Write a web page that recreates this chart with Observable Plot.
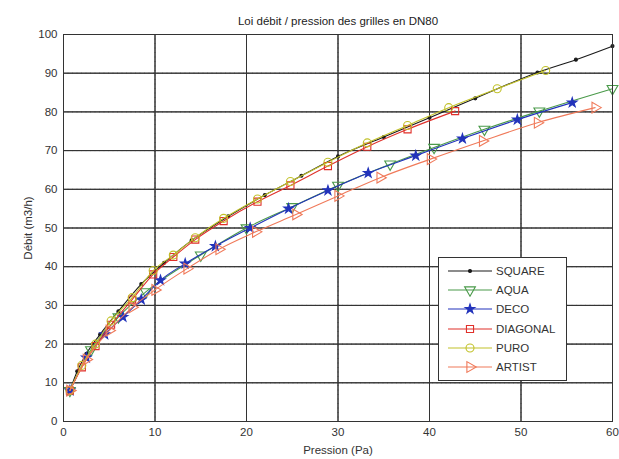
<!DOCTYPE html>
<html>
<head>
<meta charset="utf-8">
<script src="https://cdn.jsdelivr.net/npm/d3@7"></script>
<script src="https://cdn.jsdelivr.net/npm/@observablehq/plot@0.6"></script>
<style>
  html, body { margin: 0; padding: 0; background: #fff; }
  #wrap { position: relative; width: 619px; height: 459px; font-family: "Liberation Sans", Arial, sans-serif; }
  #legend { position: absolute; left: 438px; top: 257px; width: 129px; height: 124px; background: #fff; border: 1px solid #333; box-sizing: border-box; padding-top: 3px; }
  .row { display: flex; align-items: center; height: 19.3px; font-size: 11.5px; color: #333; }
  .row svg { margin-left: 8px; margin-right: 3px; }
</style>
</head>
<body>
<div id="wrap"></div>
<script>
const title = "Loi débit / pression des grilles en DN80";
const xLabel = "Pression (Pa)";
const yLabel = "Débit (m3/h)";
const xTicks = [0, 10, 20, 30, 40, 50, 60];
const yTicks = [0, 10, 20, 30, 40, 50, 60, 70, 80, 90, 100];

const seriesNames = ["SQUARE", "AQUA", "DECO", "DIAGONAL", "PURO", "ARTIST"];

const pSquare = [0.7, 1.5, 2.5, 4, 6, 8.5, 11, 14, 18, 22, 26, 30, 35, 40, 45, 51.8, 56, 60];
const qSquare = [8, 13, 17.5, 22.5, 28.5, 35.5, 41, 46.8, 53, 58.5, 63.5, 68.5, 73.5, 78.5, 83.5, 90.2, 93.5, 97];

const pAqua = [0.7, 3, 6, 9, 15, 20, 25, 30, 35.7, 40.5, 46, 52, 60];
const qAqua = [8, 18.5, 27, 33.5, 43, 50, 55.5, 61, 66.5, 70.8, 75.5, 80.2, 86];

const pDeco = [0.7, 2.5, 4.5, 6.5, 8.5, 10.6, 13.3, 16.6, 20.4, 24.6, 28.9, 33.3, 38.5, 43.6, 49.6, 55.6];
const qDeco = [8, 16.5, 22.5, 27, 31.5, 36.5, 40.8, 45.3, 50, 55, 59.7, 64.2, 68.7, 73.1, 78, 82.4];

const pDiagonal = [0.7, 2, 3.5, 5.2, 7.5, 9.8, 12, 14.4, 17.5, 21.2, 24.8, 28.9, 33.2, 37.6, 42.8];
const qDiagonal = [8, 14, 19.5, 25, 31.5, 38, 42.5, 47, 51.8, 56.8, 61, 66, 71, 75.5, 80.2];

const pPuro = [0.7, 2, 3.5, 5.2, 7.5, 9.8, 12, 14.4, 17.5, 21.2, 24.8, 28.9, 33.2, 37.6, 42.1, 47.4, 52.7];
const qPuro = [8, 14.5, 20, 26, 32, 39, 43, 47.5, 52.5, 57.5, 62, 67, 72, 76.5, 81.1, 86, 90.7];

const pArtist = [0.7, 2.5, 5, 7.5, 10, 13.5, 17, 21, 25.4, 30, 34.6, 40.1, 45.8, 51.8, 58.1];
const qArtist = [8, 16, 23.5, 29.5, 34, 39.5, 44.5, 49, 53.5, 58.3, 63, 67.8, 72.5, 77.2, 81.1];

const styles = {
  SQUARE:   {color: "#1a1a1a", symbol: "circle", rotate: 0, fill: "#1a1a1a", r: 1.5},
  AQUA:     {color: "#4a9a4a", symbol: "triangle", rotate: 180, fill: "none", r: 4},
  DECO:     {color: "#2233bb", symbol: "star", rotate: 0, fill: "#2233bb", r: 3},
  DIAGONAL: {color: "#e0302a", symbol: "square", rotate: 0, fill: "none", r: 4},
  PURO:     {color: "#c2c22a", symbol: "circle", rotate: 0, fill: "none", r: 4},
  ARTIST:   {color: "#f07a5a", symbol: "triangle", rotate: 90, fill: "none", r: 4}
};

const raw = {
  SQUARE: [pSquare, qSquare], AQUA: [pAqua, qAqua], DECO: [pDeco, qDeco],
  DIAGONAL: [pDiagonal, qDiagonal], PURO: [pPuro, qPuro], ARTIST: [pArtist, qArtist]
};

const marks = [
  Plot.gridX(xTicks, {stroke: "#777", strokeOpacity: 0.9, strokeWidth: 1, strokeDasharray: "1,3.5"}),
  Plot.gridY(yTicks, {stroke: "#777", strokeOpacity: 0.9, strokeWidth: 1, strokeDasharray: "1,3.5"}),
  Plot.tickX(xTicks, {x: d => d, y1: 0, y2: 1.4, stroke: "#333"}),
  Plot.tickX(xTicks, {x: d => d, y1: 98.6, y2: 100, stroke: "#333"}),
  Plot.tickY(yTicks, {y: d => d, x1: 0, x2: 0.6, stroke: "#333"}),
  Plot.tickY(yTicks, {y: d => d, x1: 59.4, x2: 60, stroke: "#333"})
];

for (const name of seriesNames) {
  const [ps, qs] = raw[name];
  const rows = ps.map((p, i) => ({p, q: qs[i]}));
  const s = styles[name];
  marks.push(Plot.line(rows, {x: "p", y: "q", stroke: s.color, strokeWidth: 1.1, curve: "monotone-x"}));
  marks.push(Plot.dot(rows, {x: "p", y: "q", symbol: s.symbol, rotate: s.rotate, r: s.r,
    stroke: s.color, fill: s.fill, strokeWidth: 1.1}));
}

marks.push(Plot.frame({stroke: "#333"}));
marks.push(Plot.text([title], {frameAnchor: "top", dy: -18, text: d => d, fontSize: 11.5, fill: "#222"}));

const chart = Plot.plot({
  width: 619,
  height: 459,
  marginLeft: 63,
  marginRight: 7,
  marginTop: 34,
  marginBottom: 38,
  style: {fontFamily: "Liberation Sans, Arial, sans-serif", fontSize: "11.5px", color: "#333", background: "#fff"},
  x: {domain: [0, 60], ticks: xTicks, tickSize: 0, tickPadding: 6, label: xLabel, labelAnchor: "center", labelOffset: 32, labelArrow: "none"},
  y: {domain: [0, 100], ticks: yTicks, tickSize: 0, tickPadding: 6, label: yLabel, labelAnchor: "center", labelOffset: 40, labelArrow: "none"},
  marks
});

const wrap = document.getElementById("wrap");
wrap.appendChild(chart);

// legend
const legend = document.createElement("div");
legend.id = "legend";
const symMap = {circle: d3.symbolCircle, triangle: d3.symbolTriangle, star: d3.symbolStar, square: d3.symbolSquare};
for (const name of seriesNames) {
  const s = styles[name];
  const row = document.createElement("div");
  row.className = "row";
  const svg = d3.create("svg").attr("width", 46).attr("height", 14);
  svg.append("line").attr("x1", 1).attr("x2", 45).attr("y1", 7).attr("y2", 7).attr("stroke", s.color).attr("stroke-width", 1.1);
  const size = Math.PI * s.r * s.r;
  svg.append("path").attr("d", d3.symbol(symMap[s.symbol], size)())
    .attr("transform", `translate(23,7) rotate(${s.rotate})`)
    .attr("stroke", s.color).attr("fill", s.fill).attr("stroke-width", 1.1);
  row.appendChild(svg.node());
  const t = document.createElement("span");
  t.textContent = name;
  row.appendChild(t);
  legend.appendChild(row);
}
wrap.appendChild(legend);
</script>
</body>
</html>
